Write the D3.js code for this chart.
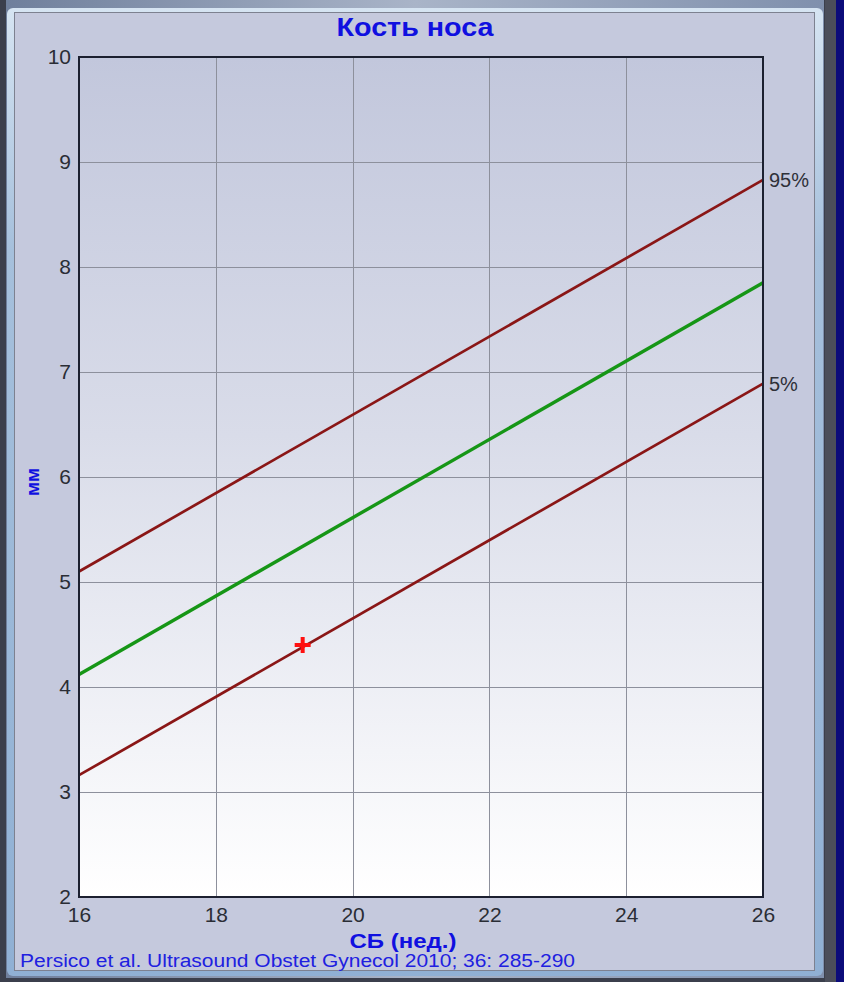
<!DOCTYPE html>
<html>
<head>
<meta charset="utf-8">
<script src="https://cdn.jsdelivr.net/npm/d3@7/dist/d3.min.js"></script>
<style>
  html, body { margin: 0; padding: 0; background: #3a3d4a; }
  svg { display: block; }
</style>
</head>
<body>
<script>
// ---- data ----
const weeks = [16, 26];
const p95 = [5.10, 8.83];
const p50 = [4.12, 7.85];
const p05 = [3.16, 6.89];
const xTicks = [16, 18, 20, 22, 24, 26];
const yTicks = [2, 3, 4, 5, 6, 7, 8, 9, 10];
const patient = [{ week: 19.27, value: 4.40 }];
const titleText = "Кость носа";
const xTitle = "СБ (нед.)";
const yTitle = "мм";
const citation = "Persico et al. Ultrasound Obstet Gynecol 2010; 36: 285-290";

const W = 844, H = 982;
const svg = d3.select("body").append("svg").attr("width", W).attr("height", H);
const defs = svg.append("defs");

// window chrome (decorative)
const lg = defs.append("linearGradient").attr("id", "tb").attr("x1", 0).attr("x2", 1);
lg.append("stop").attr("offset", 0).attr("stop-color", "#6f7f9c");
lg.append("stop").attr("offset", 0.5).attr("stop-color", "#a9b4c8");
lg.append("stop").attr("offset", 1).attr("stop-color", "#8090ad");
svg.append("rect").attr("x", 0).attr("y", 0).attr("width", W).attr("height", H).attr("fill", "#3b3f4c");
svg.append("rect").attr("x", 6).attr("y", 0).attr("width", 818).attr("height", 978).attr("fill", "url(#tb)");
const sideG = defs.append("linearGradient").attr("id", "side").attr("x1", 0).attr("x2", 0).attr("y1", 0).attr("y2", 1);
sideG.append("stop").attr("offset", 0).attr("stop-color", "#d6e4f2");
sideG.append("stop").attr("offset", 0.25).attr("stop-color", "#a6c0dc");
sideG.append("stop").attr("offset", 1).attr("stop-color", "#90b0d4");
svg.append("rect").attr("x", 7).attr("y", 8).attr("width", 816).attr("height", 968).attr("rx", 6).attr("fill", "url(#side)");
svg.append("rect").attr("x", 836).attr("y", 0).attr("width", 8).attr("height", H).attr("fill", "#0c0c7a");
svg.append("rect").attr("x", 825).attr("y", 0).attr("width", 11).attr("height", H).attr("fill", "#4b4e5a");

// panel
svg.append("rect").attr("x", 14.5).attr("y", 12.5).attr("width", 800).attr("height", 958)
  .attr("fill", "#c5c9dd").attr("stroke", "#7d8190").attr("stroke-width", 1);

// plot
const margin = { left: 79, top: 57, right: 763, bottom: 897 };
const x = d3.scaleLinear().domain([16, 26]).range([margin.left, margin.right]);
const y = d3.scaleLinear().domain([2, 10]).range([margin.bottom, margin.top]);

const pg = defs.append("linearGradient").attr("id", "plotbg").attr("x1", 0).attr("x2", 0).attr("y1", 0).attr("y2", 1);
pg.append("stop").attr("offset", 0).attr("stop-color", "#c2c7dc");
pg.append("stop").attr("offset", 0.45).attr("stop-color", "#d9dce9");
pg.append("stop").attr("offset", 1).attr("stop-color", "#ffffff");
svg.append("rect").attr("x", margin.left).attr("y", margin.top)
  .attr("width", margin.right - margin.left).attr("height", margin.bottom - margin.top)
  .attr("fill", "url(#plotbg)");

// grid
const grid = svg.append("g").attr("stroke", "#8d909c").attr("stroke-width", 1);
grid.selectAll("line.v").data(xTicks).join("line").attr("class", "v")
  .attr("x1", d => Math.round(x(d)) + 0.5).attr("x2", d => Math.round(x(d)) + 0.5)
  .attr("y1", margin.top).attr("y2", margin.bottom);
grid.selectAll("line.h").data(yTicks).join("line").attr("class", "h")
  .attr("y1", d => Math.round(y(d)) + 0.5).attr("y2", d => Math.round(y(d)) + 0.5)
  .attr("x1", margin.left).attr("x2", margin.right);

// axes labels via d3 axes
const xAxis = svg.append("g").attr("transform", `translate(0,${margin.bottom})`)
  .call(d3.axisBottom(x).tickValues(xTicks).tickSize(0).tickPadding(10));
const yAxis = svg.append("g").attr("transform", `translate(${margin.left},0)`)
  .call(d3.axisLeft(y).tickValues(yTicks).tickSize(0).tickPadding(8));
[xAxis, yAxis].forEach(a => {
  a.select(".domain").remove();
  a.selectAll("text").attr("font-family", "Liberation Sans, Arial, sans-serif")
    .attr("font-size", 21).attr("fill", "#2a2d35");
});

// series
const line = d3.line().x(d => x(d[0])).y(d => y(d[1]));
const series = [
  { vals: p95, color: "#8a1616", width: 2.7 },
  { vals: p05, color: "#8a1616", width: 2.7 },
  { vals: p50, color: "#169616", width: 3.4 }
];
svg.append("g").selectAll("path").data(series).join("path")
  .attr("d", s => line(weeks.map((w, i) => [w, s.vals[i]])))
  .attr("fill", "none").attr("stroke", s => s.color).attr("stroke-width", s => s.width);

// plot border
svg.append("rect").attr("x", margin.left).attr("y", margin.top)
  .attr("width", margin.right - margin.left).attr("height", margin.bottom - margin.top)
  .attr("fill", "none").attr("stroke", "#1c2030").attr("stroke-width", 2);

// percentile labels
const pl = [{ t: "95%", v: p95[p95.length - 1] }, { t: "5%", v: p05[p05.length - 1] }];
svg.append("g").selectAll("text").data(pl).join("text")
  .attr("x", x(26) + 6).attr("y", d => y(d.v)).attr("dy", "0.35em")
  .attr("font-family", "Liberation Sans, Arial, sans-serif").attr("font-size", 20)
  .attr("fill", "#2e3038").text(d => d.t);

// patient marker
const mk = svg.append("g").selectAll("g").data(patient).join("g")
  .attr("transform", d => `translate(${x(d.week)},${y(d.value)})`);
mk.append("line").attr("x1", -8).attr("x2", 8).attr("stroke", "#ff1010").attr("stroke-width", 4);
mk.append("line").attr("y1", -8).attr("y2", 8).attr("stroke", "#ff1010").attr("stroke-width", 4);

// titles
svg.append("text").attr("x", 415).attr("y", 36).attr("text-anchor", "middle")
  .attr("font-family", "Liberation Sans Narrow, Liberation Sans, Arial, sans-serif")
  .attr("font-weight", "bold").attr("font-size", 25).attr("fill", "#1010e0")
  .attr("textLength", 157).attr("lengthAdjust", "spacingAndGlyphs").text(titleText);
svg.append("text").attr("x", 403).attr("y", 948).attr("text-anchor", "middle")
  .attr("font-family", "Liberation Sans Narrow, Liberation Sans, Arial, sans-serif")
  .attr("font-weight", "bold").attr("font-size", 21).attr("fill", "#1010e0")
  .attr("textLength", 107).attr("lengthAdjust", "spacingAndGlyphs").text(xTitle);
svg.append("text").attr("transform", "translate(39,482) rotate(-90)").attr("text-anchor", "middle")
  .attr("font-family", "Liberation Sans, Arial, sans-serif")
  .attr("font-weight", "bold").attr("font-size", 19).attr("fill", "#1010e0").text(yTitle);
svg.append("text").attr("x", 20).attr("y", 967)
  .attr("font-family", "Liberation Sans Narrow, Liberation Sans, Arial, sans-serif")
  .attr("font-size", 18).attr("fill", "#2020e0")
  .attr("textLength", 555).attr("lengthAdjust", "spacingAndGlyphs").text(citation);
</script>
</body>
</html>
